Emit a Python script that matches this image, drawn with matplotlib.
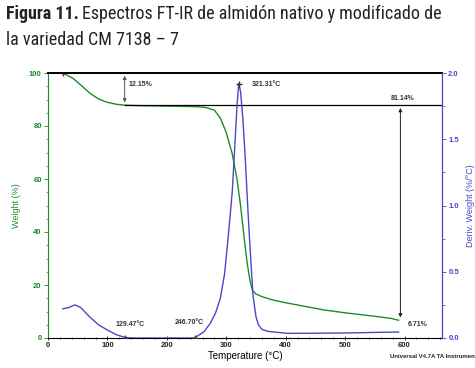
import matplotlib
matplotlib.use("Agg")
import matplotlib.pyplot as plt
from matplotlib import font_manager
from matplotlib.font_manager import FontProperties
from matplotlib.ticker import MultipleLocator, FormatStrFormatter

names = {f.name for f in font_manager.fontManager.ttflist}
plot_font = "Liberation Sans" if "Liberation Sans" in names else "DejaVu Sans"
title_font = plot_font
title_stretch = "normal"
for cand in ["Liberation Sans Narrow", "Roboto Condensed", "Open Sans Condensed", "DejaVu Sans Condensed"]:
    if cand in names:
        title_font = cand
        break
else:
    fp = FontProperties(family="DejaVu Sans", stretch="condensed")
    try:
        path = font_manager.findfont(fp, fallback_to_default=False)
        if "Condensed" in path:
            title_font = "DejaVu Sans"
            title_stretch = "condensed"
    except Exception:
        pass

# ---- data ----
temp_w = [25, 42, 55, 71, 85, 99, 115, 129, 150, 200, 250, 265, 280, 290, 300, 310,
          318, 324, 330, 335, 340, 344, 350, 360, 379, 400, 464, 500, 550, 577, 590]
weight = [100, 98.0, 95.5, 92.3, 90.2, 89.0, 88.2, 87.85, 87.7, 87.5, 87.3, 87.0, 86.0,
          83.0, 77.5, 69.5, 60, 50, 38, 28.5, 21.5, 18.0, 16.6, 15.6, 14.3, 13.3, 10.6,
          9.5, 8.2, 7.4, 6.71]

temp_d = [25, 35, 45, 55, 70, 85, 100, 115, 129, 140, 200, 246, 262, 273, 282, 290,
          297, 303, 310, 315, 318, 321, 324, 328, 332, 336, 340, 345, 350, 354, 360,
          370, 403, 450, 500, 550, 590]
deriv = [0.22, 0.23, 0.25, 0.23, 0.16, 0.10, 0.06, 0.025, 0.005, 0.0, 0.0, 0.0, 0.045,
         0.11, 0.19, 0.30, 0.48, 0.75, 1.10, 1.50, 1.75, 1.92, 1.86, 1.65, 1.35, 1.00,
         0.68, 0.32, 0.16, 0.10, 0.065, 0.05, 0.035, 0.036, 0.038, 0.042, 0.045]

step_pct = ["12.15%", "81.14%"]
end_pct = "6.71%"
peak_labels = ["129.47°C", "246.70°C", "321.31°C"]

green = "#1f8a2a"
blue = "#4848c8"

fig = plt.figure(figsize=(4.75, 3.68), dpi=100)
ax = fig.add_axes([48/475, 1-338/368, (442-48)/475, (338-73)/368])
ax2 = ax.twinx()

ax.plot(temp_w, weight, color=green, lw=1.0)
ax2.plot(temp_d, deriv, color=blue, lw=1.0)

ax.set_xlim(0, 663)
ax.set_ylim(0, 100)
ax2.set_ylim(0, 2.0)

# step annotation lines
ax.plot([0, 663], [100, 100], color="#333333", lw=1.4)
ax.plot([129, 663], [87.85, 87.85], color="black", lw=0.9)
ax.annotate("", xy=(129, 87.85), xytext=(129, 100),
            arrowprops=dict(arrowstyle="<|-|>", color="#555555", lw=0.7, mutation_scale=5))
ax.annotate("", xy=(593, 6.71), xytext=(593, 87.85),
            arrowprops=dict(arrowstyle="<|-|>", color="#222222", lw=0.7, mutation_scale=5))
ax.plot([25], [100], marker="+", color="#333333", ms=5)
ax2.plot([129.47, 246.7, 321.31], [0.0, 0.0, 1.92], ls="none", marker="+", color="#333333", ms=5)

tk = dict(fontsize=5, fontweight="bold", color="#333333", family=plot_font)
ax.text(136, 95.5, step_pct[0], ha="left", va="center", **tk)
ax.text(596, 90.5, step_pct[1], ha="center", va="center", **tk)
ax.text(605, 5, end_pct, ha="left", va="center", **tk)
ax.text(138, 5, peak_labels[0], ha="center", va="center", **tk)
ax.text(237, 5.7, peak_labels[1], ha="center", va="center", **tk)
ax.text(343, 95.5, peak_labels[2], ha="left", va="center", **tk)

# axes styling
ax.xaxis.set_major_locator(MultipleLocator(100))
ax.xaxis.set_minor_locator(MultipleLocator(20))
ax.yaxis.set_major_locator(MultipleLocator(20))
ax.yaxis.set_minor_locator(MultipleLocator(5))
ax2.yaxis.set_major_locator(MultipleLocator(0.5))
ax2.yaxis.set_minor_locator(MultipleLocator(0.25))
ax2.yaxis.set_major_formatter(FormatStrFormatter("%.1f"))

for a in (ax, ax2):
    for s in a.spines.values():
        s.set_linewidth(0.8)
ax.spines["left"].set_color(green)
ax.spines["top"].set_linewidth(1.4)
ax2.spines["right"].set_color(blue)
ax2.spines["left"].set_visible(False)
ax2.spines["top"].set_visible(False)
ax2.spines["bottom"].set_visible(False)

ax.tick_params(axis="x", which="major", labelsize=5.5, length=3, width=0.6, pad=1.5,
               colors="#222222", direction="inout")
ax.tick_params(axis="x", which="minor", length=1.8, width=0.5, direction="inout")
ax.tick_params(axis="y", which="major", labelsize=5.5, length=3, width=0.6, pad=1.5,
               colors=green, labelcolor=green)
ax.tick_params(axis="y", which="minor", length=1.8, width=0.5, colors=green)
ax2.tick_params(axis="y", which="major", labelsize=5.5, length=3, width=0.6, pad=1.5,
                colors=blue, labelcolor=blue)
ax2.tick_params(axis="y", which="minor", length=1.8, width=0.5, colors=blue)

for lab in ax.get_xticklabels() + ax.get_yticklabels() + ax2.get_yticklabels():
    lab.set_fontweight("bold")
    lab.set_family(plot_font)

ax.set_xlabel("Temperature (°C)", fontsize=7, family=plot_font, labelpad=1)
ax.set_ylabel("Weight (%)", fontsize=6.5, color=green, family=plot_font, labelpad=6)
ax2.set_ylabel("Deriv. Weight (%/°C)", fontsize=6.5, color=blue, family=plot_font, labelpad=5)

fig.text(390/475, 1-357/368, "Universal V4.7A TA Instrumen", fontsize=4.3,
         fontweight="bold", family=plot_font, color="#222222", va="center", ha="left")

# title (size fitted so line 1 spans the same width as in the reference)
r = fig.canvas.get_renderer()
def title_line(size):
    t1 = fig.text(6/475, 1-14/368, "Figura 11.", fontsize=size, fontweight="bold",
                  family=title_font, stretch=title_stretch, color="#222222",
                  va="center", ha="left")
    bb = t1.get_window_extent(renderer=r)
    t2 = fig.text(bb.x1/fig.bbox.width + 3/475, 1-14/368,
                  "Espectros FT-IR de almidón nativo y modificado de", fontsize=size,
                  family=title_font, stretch=title_stretch, color="#222222",
                  va="center", ha="left")
    return t1, t2

size = 13
t1, t2 = title_line(size)
right = t2.get_window_extent(renderer=r).x1
if right > 466:
    t1.remove(); t2.remove()
    size = size * (466 - 6) / (right - 6)
    t1, t2 = title_line(size)
fig.text(6/475, 1-40/368, "la variedad CM 7138 – 7", fontsize=size,
         family=title_font, stretch=title_stretch, color="#222222", va="center", ha="left")

fig.savefig("out.png", dpi=100)
